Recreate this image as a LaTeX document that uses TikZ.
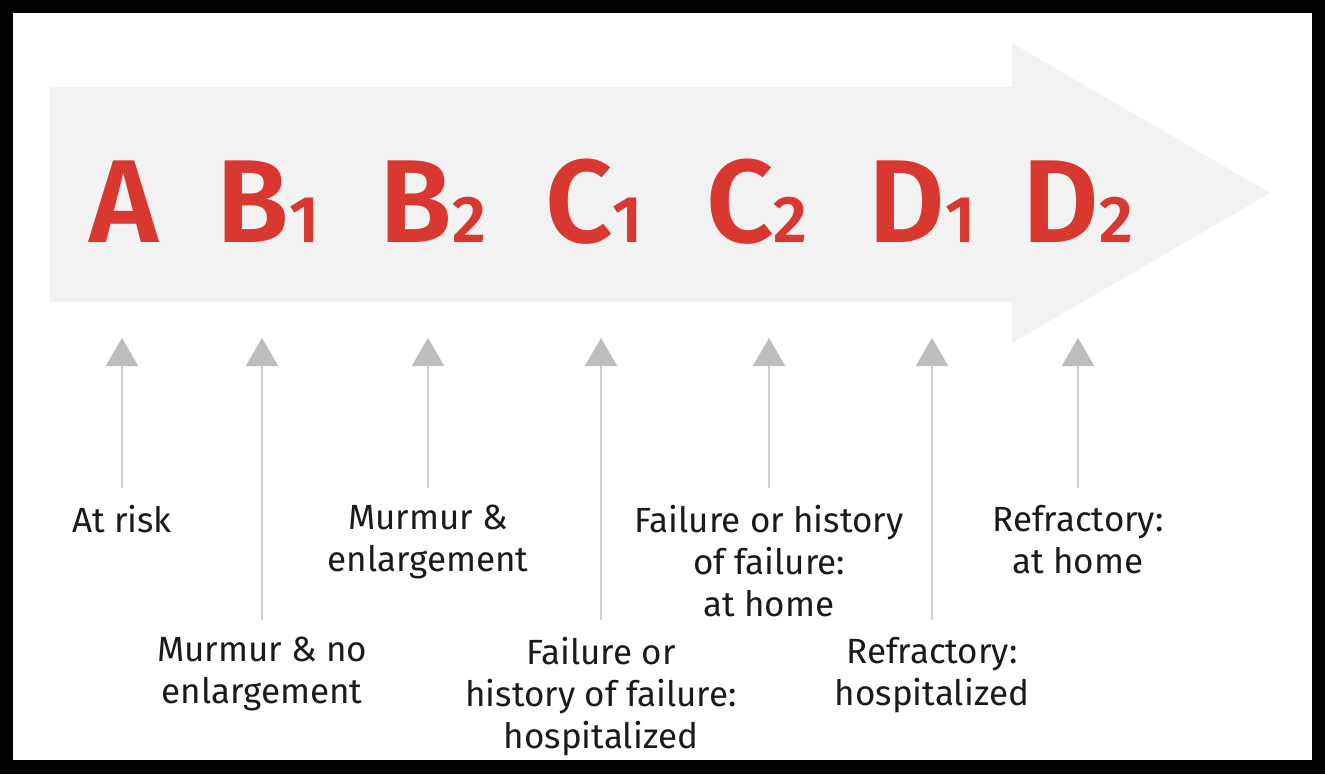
\documentclass[tikz,border=0pt]{standalone}
\usepackage{fontspec}
\setmainfont{Fira Sans}[BoldFont={Fira Sans SemiBold}]
\usetikzlibrary{arrows.meta}
\definecolor{stagered}{HTML}{D8382F}
\definecolor{bandgray}{HTML}{F2F2F2}
\definecolor{linegray}{HTML}{D0D0D0}
\definecolor{headgray}{HTML}{BDBDBD}
\definecolor{txt}{HTML}{1A1A1A}
\newcommand{\sub}[1]{{\fontsize{66}{66}\selectfont #1}}
\begin{document}
\begin{tikzpicture}[x=1pt,y=-1pt,
  stage/.style={anchor=base, inner sep=0pt, text=stagered,
    font=\fontsize{118}{118}\selectfont\bfseries},
  lab/.style={anchor=north, inner sep=0pt, outer ysep=17pt, align=center, text=txt,
    font=\fontsize{35}{42}\selectfont},
  conn/.style={draw=linegray, line width=2pt,
    -{Triangle[width=32pt,length=28pt,color=headgray]}}]
\useasboundingbox (0,0) rectangle (1325,774);
\fill[black] (0,0) rectangle (1325,774);
\fill[white] (13,13) rectangle (1312,760);
% big arrow band
\fill[bandgray] (50,87) -- (1012,87) -- (1012,43) -- (1270,193) -- (1012,343)
  -- (1012,302) -- (50,302) -- cycle;
% stage letters
\node[stage] (sA)  at (124,242)  {A};
\node[stage] (sB1) at (268,242)  {B\sub{1}};
\node[stage] (sB2) at (433,242)  {B\sub{2}};
\node[stage] (sC1) at (594,242)  {C\sub{1}};
\node[stage] (sC2) at (757,242)  {C\sub{2}};
\node[stage] (sD1) at (922,242)  {D\sub{1}};
\node[stage] (sD2) at (1078,242) {D\sub{2}};
% labels
\node[lab] (lA)  at (122,488)  {At risk};
\node[lab] (lB1) at (262,620)  {Murmur \& no\\enlargement};
\node[lab] (lB2) at (428,488)  {Murmur \&\\enlargement};
\node[lab] (lC1) at (601,620)  {Failure or\\history of failure:\\hospitalized};
\node[lab] (lC2) at (769,488)  {Failure or history\\of failure:\\at home};
\node[lab] (lD1) at (932,620)  {Refractory:\\hospitalized};
\node[lab] (lD2) at (1078,488) {Refractory:\\at home};
% connectors
\foreach \n in {lA,lB1,lB2,lC1,lC2,lD1,lD2}{
  \coordinate (t\n) at (\n.north |- 0,338);
  \draw[conn] (\n.north) -- (t\n);
}
\end{tikzpicture}
\end{document}
